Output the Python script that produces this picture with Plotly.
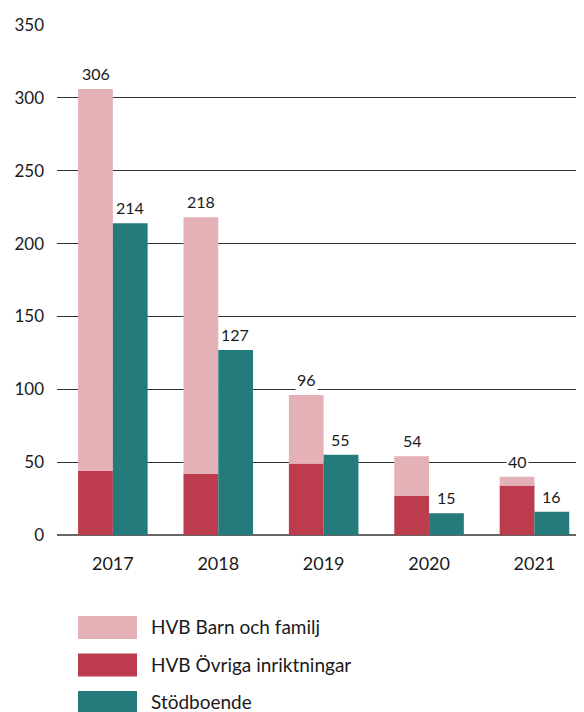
import plotly.graph_objects as go

years = ["2017", "2018", "2019", "2020", "2021"]
ovriga = [44, 42, 49, 27, 34]
totals = [306, 218, 96, 54, 40]
barn = [t - o for t, o in zip(totals, ovriga)]
stodboende = [214, 127, 55, 15, 16]

names = ["HVB Barn och familj", "HVB Övriga inriktningar", "Stödboende"]
colors = ["#E3B1B6", "#BC3B4D", "#257B7B"]

FONT = "Lato"
TXT = "#1a1a1a"

fig = go.Figure()
fig.add_trace(go.Bar(x=years, y=ovriga, name=names[1], marker_color=colors[1],
                     offsetgroup="hvb", marker_line_width=0))
fig.add_trace(go.Bar(x=years, y=barn, base=ovriga, name=names[0], marker_color=colors[0],
                     offsetgroup="hvb", marker_line_width=0))
fig.add_trace(go.Bar(x=years, y=stodboende, name=names[2], marker_color=colors[2],
                     offsetgroup="stod", marker_line_width=0))

annotations = []
for i, (t, s) in enumerate(zip(totals, stodboende)):
    annotations.append(dict(x=i, y=t, text=str(t), showarrow=False, yanchor="bottom",
                            xshift=-17, yshift=4, bgcolor="white",
                            font=dict(family=FONT, size=16, color=TXT)))
    annotations.append(dict(x=i, y=s, text=str(s), showarrow=False, yanchor="bottom",
                            xshift=17, yshift=4, bgcolor="white",
                            font=dict(family=FONT, size=16, color=TXT)))

# custom legend with large swatches (plot area in page px: top 25, bottom 535, left 57, right 584)
shapes = []
for i in range(3):
    top_px = 616 + i * 37.5
    bot_px = top_px + 23
    shapes.append(dict(type="rect", xref="paper", yref="paper",
                       x0=(78 - 57) / 527, x1=(137 - 57) / 527,
                       y0=(535 - bot_px) / 510, y1=(535 - top_px) / 510,
                       fillcolor=colors[i], line_width=0))
    annotations.append(dict(xref="paper", yref="paper", x=(149 - 57) / 527,
                            y=(535 - (top_px + 10.5)) / 510, xanchor="left", yanchor="middle",
                            text=names[i], showarrow=False,
                            font=dict(family=FONT, size=19, color=TXT)))

# page has an 8px body margin, so the figure is drawn 8px smaller and offset
fig.update_layout(
    width=576, height=704,
    margin=dict(l=49, r=0, t=17, b=177),
    barmode="group", bargap=0.34, bargroupgap=0,
    plot_bgcolor="white", paper_bgcolor="white",
    showlegend=False,
    font=dict(family=FONT, color=TXT),
    annotations=annotations, shapes=shapes,
)
fig.update_yaxes(range=[0, 350], dtick=50, showgrid=True, gridcolor="#333333", gridwidth=1,
                 zeroline=True, zerolinecolor="#666666", zerolinewidth=1.5,
                 tickfont=dict(family=FONT, size=17, color=TXT), ticklabelstandoff=12,
                 showline=False, automargin=False)
fig.update_xaxes(type="category", range=[-0.53, 4.47],
                 tickfont=dict(family=FONT, size=18, color=TXT),
                 showline=False, ticks="", ticklabelstandoff=16, automargin=False)

fig.write_html("out.html")
